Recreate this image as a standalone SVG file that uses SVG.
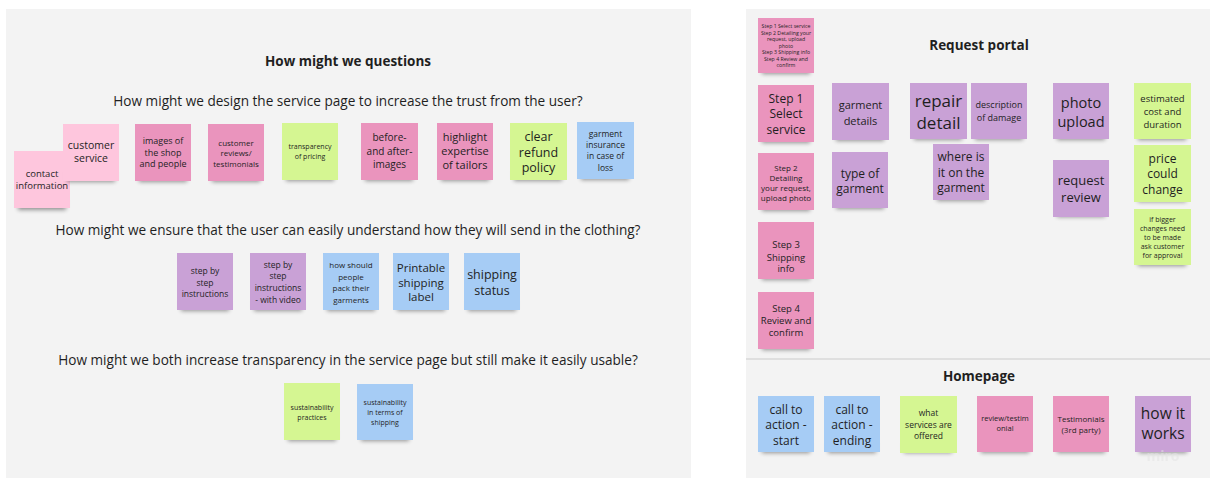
<svg xmlns="http://www.w3.org/2000/svg" width="1210" height="478" viewBox="0 0 1210 478">
  <defs>
    <filter id="soft" x="-20%" y="-50%" width="140%" height="200%">
      <feGaussianBlur stdDeviation="2.2"/>
    </filter>
  </defs>
  <style>
    .panel { fill: #f3f3f3; }
    .sh { fill: #000; opacity: 0.4; filter: url(#soft); }
    .note { stroke: none; }
    .pinkL { fill: #fec6dd; }
    .pink { fill: #ea94bd; }
    .lime { fill: #d5f692; }
    .blue { fill: #a6ccf5; }
    .purple { fill: #c9a1d6; }
    text { font-family: "Open Sans", "Noto Sans", "Liberation Sans", sans-serif; fill: #1f1f1f; text-anchor: middle; dominant-baseline: central; }
    .title { font-weight: 700; font-size: 13.5px; }
    .q { font-size: 13.6px; }
  </style>

  <!-- board frames -->
  <rect class="panel" x="6" y="9" width="685" height="469"/>
  <rect class="panel" x="746" y="9" width="464" height="469"/>
  <line x1="746" y1="359" x2="1210" y2="359" stroke="#cbcbcb" stroke-width="1.2"/>

  <!-- headings -->
  <g id="headings">
    <text class="title" x="348" y="61">How might we questions</text>
    <text class="q" x="348" y="100">How might we design the service page to increase the trust from the user?</text>
    <text class="q" x="348" y="229">How might we ensure that the user can easily understand how they will send in the clothing?</text>
    <text class="q" x="348" y="359">How might we both increase transparency in the service page but still make it easily usable?</text>
    <text class="title" x="979" y="45">Request portal</text>
    <text class="title" x="979" y="376">Homepage</text>
  </g>

  <!-- connectors: none on this board -->
  <g id="connectors"></g>

  <!-- trust question notes -->
  <g id="n-contact" transform="translate(14,151)">
    <rect class="sh" x="4" y="47" width="48" height="12"/>
    <rect class="note pinkL" width="56" height="57"/>
    <g font-size="9.5"><text x="28" y="22">contact</text><text x="28" y="34">information</text></g>
  </g>
  <g id="n-customer-service" transform="translate(63,124)">
    <rect class="sh" x="4" y="46" width="48" height="12"/>
    <rect class="note pinkL" width="56" height="57"/>
    <g font-size="10.5"><text x="28" y="21">customer</text><text x="28" y="34">service</text></g>
  </g>
  <g id="n-images-shop" transform="translate(135,124)">
    <rect class="sh" x="4" y="46" width="48" height="12"/>
    <rect class="note pink" width="56" height="57"/>
    <g font-size="9"><text x="28" y="16">images of</text><text x="28" y="28">the shop</text><text x="28" y="39">and people</text></g>
  </g>
  <g id="n-reviews" transform="translate(208,124)">
    <rect class="sh" x="4" y="46" width="48" height="12"/>
    <rect class="note pink" width="56" height="57"/>
    <g font-size="8"><text x="28" y="18">customer</text><text x="28" y="28">reviews/</text><text x="28" y="39">testimonials</text></g>
  </g>
  <g id="n-transparency" transform="translate(282,123)">
    <rect class="sh" x="4" y="46" width="48" height="12"/>
    <rect class="note lime" width="56" height="57"/>
    <g font-size="7"><text x="28" y="23">transparency</text><text x="28" y="33">of pricing</text></g>
  </g>
  <g id="n-before-after" transform="translate(361,123)">
    <rect class="sh" x="4" y="46" width="48" height="12"/>
    <rect class="note pink" width="57" height="57"/>
    <g font-size="10"><text x="28.5" y="14">before-</text><text x="28.5" y="28">and after-</text><text x="28.5" y="41">images</text></g>
  </g>
  <g id="n-expertise" transform="translate(437,123)">
    <rect class="sh" x="4" y="46" width="48" height="12"/>
    <rect class="note pink" width="56" height="57"/>
    <g font-size="11"><text x="28" y="13">highlight</text><text x="28" y="27">expertise</text><text x="28" y="41">of tailors</text></g>
  </g>
  <g id="n-refund" transform="translate(510,123)">
    <rect class="sh" x="4" y="46" width="48" height="12"/>
    <rect class="note lime" width="57" height="57"/>
    <g font-size="12.5"><text x="28.5" y="13">clear</text><text x="28.5" y="29">refund</text><text x="28.5" y="44">policy</text></g>
  </g>
  <g id="n-insurance" transform="translate(577,122)">
    <rect class="sh" x="4" y="46" width="48" height="12"/>
    <rect class="note blue" width="57" height="57"/>
    <g font-size="8.5"><text x="28.5" y="11">garment</text><text x="28.5" y="22">insurance</text><text x="28.5" y="33">in case of</text><text x="28.5" y="45">loss</text></g>
  </g>

  <!-- shipping question notes -->
  <g id="n-step-by-step" transform="translate(177,253)">
    <rect class="sh" x="4" y="46" width="48" height="12"/>
    <rect class="note purple" width="56" height="57"/>
    <g font-size="8.5"><text x="28" y="17">step by</text><text x="28" y="29">step</text><text x="28" y="40">instructions</text></g>
  </g>
  <g id="n-step-video" transform="translate(250,253)">
    <rect class="sh" x="4" y="46" width="48" height="12"/>
    <rect class="note purple" width="56" height="57"/>
    <g font-size="8.5"><text x="28" y="11">step by</text><text x="28" y="22">step</text><text x="28" y="34">instructions</text><text x="28" y="46">- with video</text></g>
  </g>
  <g id="n-pack" transform="translate(323,253)">
    <rect class="sh" x="4" y="46" width="48" height="12"/>
    <rect class="note blue" width="56" height="57"/>
    <g font-size="8"><text x="28" y="11">how should</text><text x="28" y="23">people</text><text x="28" y="34">pack their</text><text x="28" y="46">garments</text></g>
  </g>
  <g id="n-label" transform="translate(393,253)">
    <rect class="sh" x="4" y="46" width="48" height="12"/>
    <rect class="note blue" width="56" height="57"/>
    <g font-size="11.5"><text x="28" y="14">Printable</text><text x="28" y="29">shipping</text><text x="28" y="43">label</text></g>
  </g>
  <g id="n-status" transform="translate(464,253)">
    <rect class="sh" x="4" y="46" width="48" height="12"/>
    <rect class="note blue" width="56" height="57"/>
    <g font-size="12.5"><text x="28" y="21">shipping</text><text x="28" y="37">status</text></g>
  </g>

  <!-- usability question notes -->
  <g id="n-sustain-practices" transform="translate(284,383)">
    <rect class="sh" x="4" y="46" width="48" height="12"/>
    <rect class="note lime" width="56" height="57"/>
    <g font-size="7"><text x="28" y="24">sustainability</text><text x="28" y="34">practices</text></g>
  </g>
  <g id="n-sustain-shipping" transform="translate(357,384)">
    <rect class="sh" x="4" y="45" width="48" height="12"/>
    <rect class="note blue" width="56" height="56"/>
    <g font-size="7"><text x="28" y="18">sustainability</text><text x="28" y="28">in terms of</text><text x="28" y="38">shipping</text></g>
  </g>

  <!-- request portal notes -->
  <g id="n-steps-summary" transform="translate(758,18)">
    <rect class="sh" x="4" y="44" width="48" height="12"/>
    <rect class="note pink" width="56" height="55"/>
    <g font-size="5.2"><text x="28" y="8">Step 1 Select service</text><text x="28" y="14.5">Step 2 Detailing your</text><text x="28" y="21">request, upload</text><text x="28" y="27.5">photo</text><text x="28" y="34">Step 3 Shipping info</text><text x="28" y="40.5">Step 4 Review and</text><text x="28" y="47">confirm</text></g>
  </g>
  <g id="n-step1" transform="translate(758,85)">
    <rect class="sh" x="4" y="46" width="48" height="12"/>
    <rect class="note pink" width="56" height="57"/>
    <g font-size="12"><text x="28" y="13">Step 1</text><text x="28" y="28">Select</text><text x="28" y="44">service</text></g>
  </g>
  <g id="n-step2" transform="translate(758,153)">
    <rect class="sh" x="4" y="46" width="48" height="12"/>
    <rect class="note pink" width="56" height="57"/>
    <g font-size="8"><text x="28" y="14">Step 2</text><text x="28" y="24">Detailing</text><text x="28" y="34">your request,</text><text x="28" y="44">upload photo</text></g>
  </g>
  <g id="n-step3" transform="translate(758,222)">
    <rect class="sh" x="4" y="46" width="48" height="12"/>
    <rect class="note pink" width="56" height="57"/>
    <g font-size="9.5"><text x="28" y="22">Step 3</text><text x="28" y="35">Shipping</text><text x="28" y="46">info</text></g>
  </g>
  <g id="n-step4" transform="translate(758,292)">
    <rect class="sh" x="4" y="46" width="48" height="12"/>
    <rect class="note pink" width="56" height="57"/>
    <g font-size="9.5"><text x="28" y="16">Step 4</text><text x="28" y="28">Review and</text><text x="28" y="40">confirm</text></g>
  </g>
  <g id="n-garment-details" transform="translate(832,83)">
    <rect class="sh" x="4" y="46" width="48" height="12"/>
    <rect class="note purple" width="57" height="57"/>
    <g font-size="11"><text x="28.5" y="21">garment</text><text x="28.5" y="37">details</text></g>
  </g>
  <g id="n-garment-type" transform="translate(832,152)">
    <rect class="sh" x="4" y="45" width="48" height="12"/>
    <rect class="note purple" width="56" height="56"/>
    <g font-size="12"><text x="28" y="21">type of</text><text x="28" y="36">garment</text></g>
  </g>
  <g id="n-repair" transform="translate(910,83)">
    <rect class="sh" x="4" y="45" width="48" height="12"/>
    <rect class="note purple" width="57" height="56"/>
    <g font-size="17"><text x="28.5" y="17">repair</text><text x="28.5" y="39">detail</text></g>
  </g>
  <g id="n-damage" transform="translate(971,83)">
    <rect class="sh" x="4" y="45" width="48" height="12"/>
    <rect class="note purple" width="56" height="56"/>
    <g font-size="9"><text x="28" y="21">description</text><text x="28" y="34">of damage</text></g>
  </g>
  <g id="n-where" transform="translate(933,144)">
    <rect class="sh" x="4" y="45" width="48" height="12"/>
    <rect class="note purple" width="56" height="56"/>
    <g font-size="12"><text x="28" y="12">where is</text><text x="28" y="28">it on the</text><text x="28" y="43">garment</text></g>
  </g>
  <g id="n-photo" transform="translate(1053,83)">
    <rect class="sh" x="4" y="45" width="48" height="12"/>
    <rect class="note purple" width="56" height="56"/>
    <g font-size="14.5"><text x="28" y="19">photo</text><text x="28" y="38">upload</text></g>
  </g>
  <g id="n-request-review" transform="translate(1053,160)">
    <rect class="sh" x="4" y="45" width="48" height="12"/>
    <rect class="note purple" width="56" height="57"/>
    <g font-size="13"><text x="28" y="20">request</text><text x="28" y="37">review</text></g>
  </g>
  <g id="n-estimate" transform="translate(1134,83)">
    <rect class="sh" x="4" y="45" width="48" height="12"/>
    <rect class="note lime" width="57" height="56"/>
    <g font-size="9.5"><text x="28.5" y="15">estimated</text><text x="28.5" y="28">cost and</text><text x="28.5" y="41">duration</text></g>
  </g>
  <g id="n-price-change" transform="translate(1134,145)">
    <rect class="sh" x="4" y="45" width="48" height="12"/>
    <rect class="note lime" width="57" height="57"/>
    <g font-size="12"><text x="28.5" y="13">price</text><text x="28.5" y="28">could</text><text x="28.5" y="44">change</text></g>
  </g>
  <g id="n-approval" transform="translate(1134,209)">
    <rect class="sh" x="4" y="45" width="48" height="12"/>
    <rect class="note lime" width="57" height="56"/>
    <g font-size="7"><text x="28.5" y="10">if bigger</text><text x="28.5" y="19">changes need</text><text x="28.5" y="28">to be made</text><text x="28.5" y="37">ask customer</text><text x="28.5" y="46">for approval</text></g>
  </g>

  <!-- homepage notes -->
  <g id="n-cta-start" transform="translate(758,396)">
    <rect class="sh" x="4" y="45" width="48" height="12"/>
    <rect class="note blue" width="56" height="56"/>
    <g font-size="12"><text x="28" y="13">call to</text><text x="28" y="28">action -</text><text x="28" y="44">start</text></g>
  </g>
  <g id="n-cta-ending" transform="translate(824,396)">
    <rect class="sh" x="4" y="45" width="48" height="12"/>
    <rect class="note blue" width="56" height="56"/>
    <g font-size="12"><text x="28" y="13">call to</text><text x="28" y="28">action -</text><text x="28" y="44">ending</text></g>
  </g>
  <g id="n-services" transform="translate(900,396)">
    <rect class="sh" x="4" y="45" width="48" height="12"/>
    <rect class="note lime" width="57" height="57"/>
    <g font-size="8.5"><text x="28.5" y="16">what</text><text x="28.5" y="28">services are</text><text x="28.5" y="39">offered</text></g>
  </g>
  <g id="n-review-testimonial" transform="translate(977,396)">
    <rect class="sh" x="4" y="45" width="48" height="12"/>
    <rect class="note pink" width="56" height="56"/>
    <g font-size="7.5"><text x="28" y="22">review/testim</text><text x="28" y="32">onial</text></g>
  </g>
  <g id="n-testimonials-3rd" transform="translate(1053,396)">
    <rect class="sh" x="4" y="45" width="48" height="12"/>
    <rect class="note pink" width="56" height="56"/>
    <g font-size="8"><text x="28" y="22">Testimonials</text><text x="28" y="33">(3rd party)</text></g>
  </g>
  <g id="n-how-it-works" transform="translate(1135,396)">
    <rect class="sh" x="4" y="45" width="48" height="12"/>
    <rect class="note purple" width="56" height="56"/>
    <g font-size="15.5"><text x="28" y="17">how it</text><text x="28" y="37">works</text></g>
  </g>

  <!-- board watermark -->
  <text x="1163" y="455" font-size="14" font-weight="700" style="fill:#e4e4e4;opacity:0.55">miro</text>
</svg>
